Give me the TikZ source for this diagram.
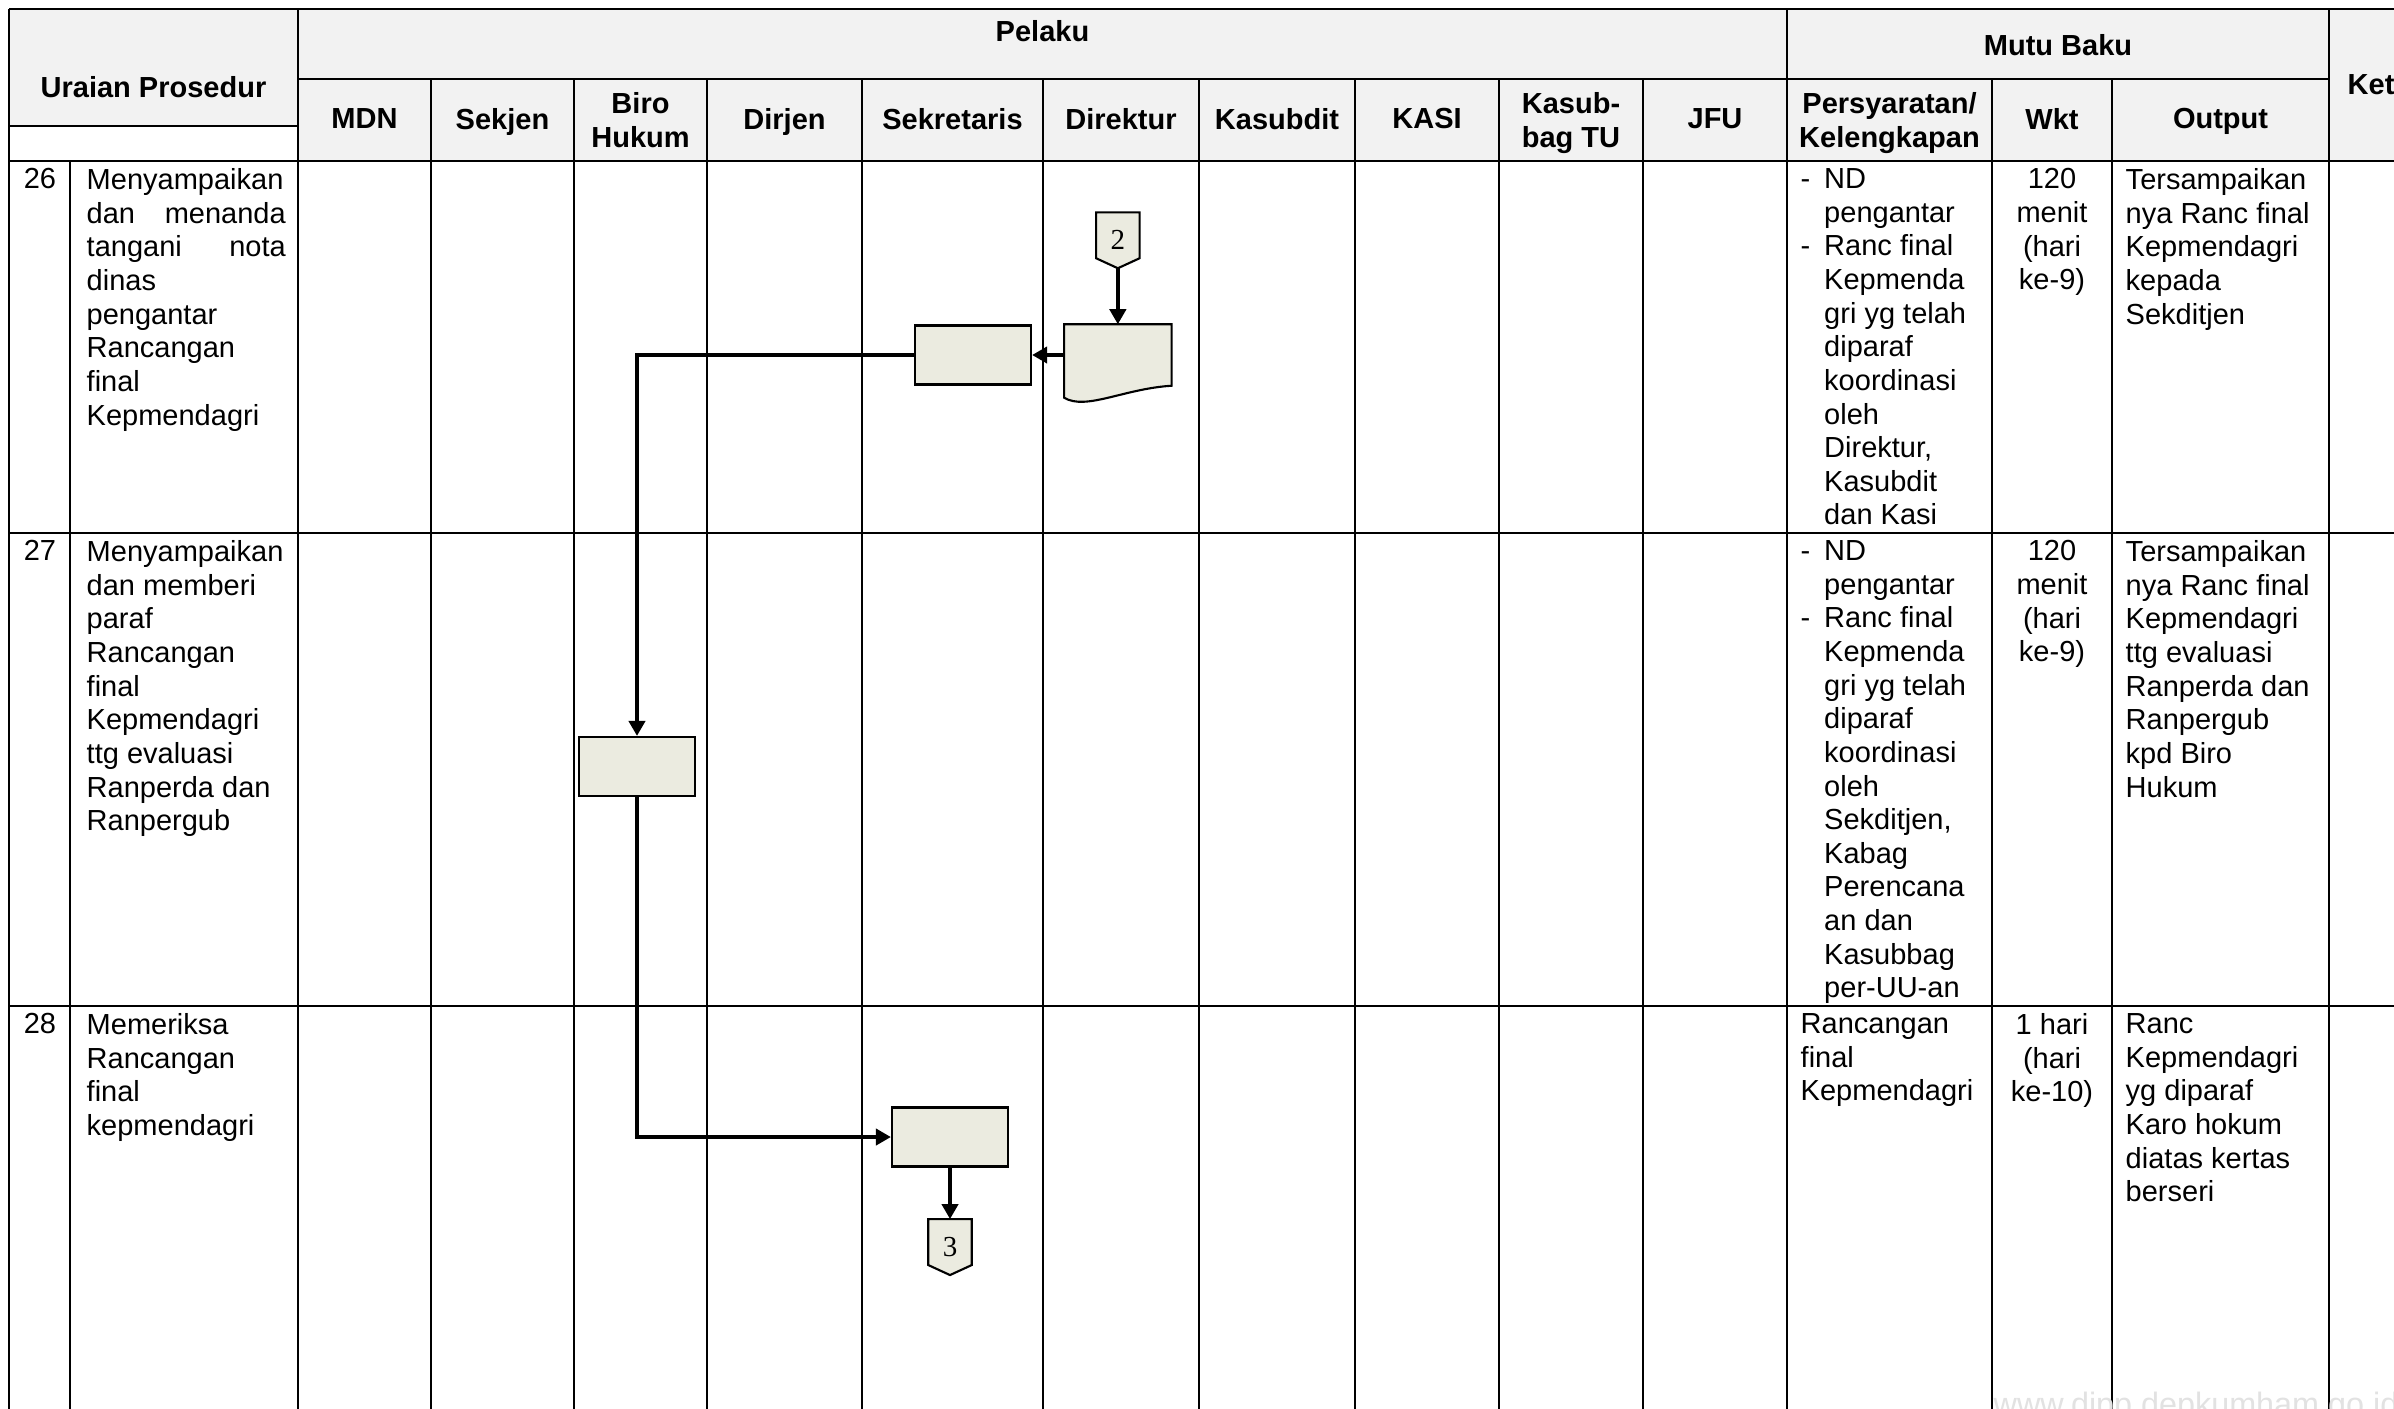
\documentclass[tikz,border=0pt]{standalone}
\usepackage{fontspec}
\setmainfont{Liberation Sans}
\newfontfamily\connfont{Liberation Serif}
\usepackage{xcolor}
\usepackage{tikz}
\usetikzlibrary{arrows.meta, positioning, calc, backgrounds}
\definecolor{headcol}{RGB}{242, 242, 242}
\definecolor{boxcol}{RGB}{235, 235, 224}
\definecolor{markcol}{RGB}{226, 226, 226}
\setlength{\parindent}{0pt}
\newcommand{\cellfont}{\fontsize{8.25}{9.56}\selectfont}
\newcommand{\reqdash}{\makebox[0.235cm][l]{-}}
\newcommand{\reqind}{\makebox[0.235cm][l]{}}

\begin{document}
\begin{tikzpicture}[
        x=0.01cm, y=-0.01cm,
        hline/.style={line width=0.8pt},
        vline/.style={line width=0.6pt},
        head/.style={anchor=north, inner sep=0pt, align=center, font=\cellfont\bfseries},
        cell/.style={anchor=north west, inner sep=0pt, align=left, font=\cellfont},
        wkt/.style={anchor=north, inner sep=0pt, align=center, font=\cellfont},
        box/.style={rectangle, draw, fill=boxcol, line width=0.6pt, minimum width=1.16cm, minimum height=0.59cm, inner sep=0pt},
        docbox/.style={draw, fill=boxcol, line width=0.6pt},
        offpage/.style={rectangle, minimum width=0.42cm, minimum height=0.545cm, inner sep=0pt, font=\connfont\fontsize{8.25}{9}\selectfont},
        arrow/.style={-{Triangle[length=4.3pt, width=4.6pt]}, line width=1.1pt}
    ]
    \useasboundingbox (0,0) rectangle (2394,1408);
    \begin{scope}[on background layer]
        \fill[white] (0,0) rectangle (2394,1408);
    \end{scope}

    % Header shading
    \fill[headcol] (9,9) rectangle (298,126);
    \fill[headcol] (298,9) rectangle (2420,161);

    % Table lines
    \draw[hline] (9,9) -- (2420,9);
    \draw[hline] (9,161) -- (2420,161);
    \draw[hline] (9,533) -- (2420,533);
    \draw[hline] (9,1006) -- (2420,1006);
    \draw[vline] (298,79) -- (2329,79);
    \draw[vline] (9,126) -- (298,126);
    \draw[hline] (9,9) -- (9,1420);
    \draw[hline] (298,9) -- (298,1420);
    \draw[vline] (70,161) -- (70,1420);
    \draw[vline] (431,79) -- (431,1420) (574,79) -- (574,1420) (707,79) -- (707,1420)
        (862,79) -- (862,1420) (1043,79) -- (1043,1420) (1199,79) -- (1199,1420)
        (1355,79) -- (1355,1420) (1499,79) -- (1499,1420) (1643,79) -- (1643,1420);
    \draw[vline] (1787,9) -- (1787,1420);
    \draw[vline] (1992,79) -- (1992,1420) (2112,79) -- (2112,1420);
    \draw[vline] (2329,9) -- (2329,1420);

    % Header texts
    \node[head] (hUraian) at (153.5,76) {Uraian Prosedur};
    \node[head] (hPelaku) at (1042.5,20) {Pelaku};
    \node[head] (hMutu) at (2058,34) {Mutu Baku};
    \node[head, anchor=north west] (hKet) at (2347,74) {Ket};
    \node[head] (hMDN) at (364.5,108) {MDN};
    \node[head] (hSekjen) at (502.5,108) {Sekjen};
    \node[head] (hBiro) at (640.5,92) {Biro\\Hukum};
    \node[head] (hDirjen) at (784.5,108) {Dirjen};
    \node[head] (hSekretaris) at (952.5,108) {Sekretaris};
    \node[head] (hDirektur) at (1121,108) {Direktur};
    \node[head] (hKasubdit) at (1277,108) {Kasubdit};
    \node[head] (hKasi) at (1427,108) {KASI};
    \node[head] (hKasubbag) at (1571,92) {Kasub-\\bag TU};
    \node[head] (hJfu) at (1715,108) {JFU};
    \node[head] (hSyarat) at (1889.5,92) {Persyaratan/\\Kelengkapan};
    \node[head] (hWkt) at (2052,108) {Wkt};
    \node[head] (hOutput) at (2220.5,108) {Output};

    % Row 26
    \node[cell, anchor=north] (n26) at (40,168) {26};
    \node[cell, text width=1.99cm] (u26) at (86,168) {Menyampaikan\\ dan\hfill menanda\\ tangani\hfill nota\\ dinas\\ pengantar\\ Rancangan\\ final\\ Kepmendagri};
    \node[cell] (req26) at (1800,168) {\reqdash ND\\ \reqind pengantar\\ \reqdash Ranc final\\ \reqind Kepmenda\\ \reqind gri yg telah\\ \reqind diparaf\\ \reqind koordinasi\\ \reqind oleh\\ \reqind Direktur,\\ \reqind Kasubdit\\ \reqind dan Kasi};
    \node[wkt] (wkt26) at (2052,168) {120\\ menit\\ (hari\\ ke-9)};
    \node[cell] (out26) at (2125,168) {Tersampaikan\\ nya Ranc final\\ Kepmendagri\\ kepada\\ Sekditjen};

    % Row 27
    \node[cell, anchor=north] (n27) at (40,540) {27};
    \node[cell] (u27) at (86,540) {Menyampaikan\\ dan memberi\\ paraf\\ Rancangan\\ final\\ Kepmendagri\\ ttg evaluasi\\ Ranperda dan\\ Ranpergub};
    \node[cell] (req27) at (1800,540) {\reqdash ND\\ \reqind pengantar\\ \reqdash Ranc final\\ \reqind Kepmenda\\ \reqind gri yg telah\\ \reqind diparaf\\ \reqind koordinasi\\ \reqind oleh\\ \reqind Sekditjen,\\ \reqind Kabag\\ \reqind Perencana\\ \reqind an dan\\ \reqind Kasubbag\\ \reqind per-UU-an};
    \node[wkt] (wkt27) at (2052,540) {120\\ menit\\ (hari\\ ke-9)};
    \node[cell] (out27) at (2125,540) {Tersampaikan\\ nya Ranc final\\ Kepmendagri\\ ttg evaluasi\\ Ranperda dan\\ Ranpergub\\ kpd Biro\\ Hukum};

    % Row 28
    \node[cell, anchor=north] (n28) at (40,1013) {28};
    \node[cell] (u28) at (86,1013) {Memeriksa\\ Rancangan\\ final\\ kepmendagri};
    \node[cell] (req28) at (1800,1013) {Rancangan\\ final\\ Kepmendagri};
    \node[wkt] (wkt28) at (2052,1013) {1 hari\\ (hari\\ ke-10)};
    \node[cell] (out28) at (2125,1013) {Ranc\\ Kepmendagri\\ yg diparaf\\ Karo hokum\\ diatas kertas\\ berseri};

    % Flow boxes
    \node[box] (sek1) at (973,355) {};
    \node[rectangle, minimum width=1.06cm, minimum height=0.6cm, inner sep=0pt, right=0.32cm of sek1] (doc) {};
    \node[offpage, above=0.56cm of doc] (off2) {2};
    \node[box] (biro) at (637,766.5) {};
    \node[box] (sek2) at (950,1137) {};
    \node[offpage, below=0.515cm of sek2] (off3) {3};

    % Document shape
    \draw[docbox] (doc.north west) -- (doc.north east) -- (doc.south east)
        .. controls ($(doc.south east)+(-48,3)$) and ($(doc.south west)+(22,25)$) .. ($(doc.south west)+(0,12)$) -- cycle;

    % Off-page connectors
    \begin{scope}[on background layer]
        \draw[docbox] (off2.north west) -- (off2.north east) -- ($(off2.south east)+(0,-10)$) -- (off2.south) -- ($(off2.south west)+(0,-10)$) -- cycle;
        \draw[docbox] (off3.north west) -- (off3.north east) -- ($(off3.south east)+(0,-10)$) -- (off3.south) -- ($(off3.south west)+(0,-10)$) -- cycle;
    \end{scope}

    % Arrows
    \draw[arrow] (off2.south) -- (doc.north);
    \draw[arrow] (doc.west) -- (sek1.east);
    \draw[arrow] (sek1.west) -| (biro.north);
    \draw[arrow] (biro.south) |- (sek2.west);
    \draw[arrow] (sek2.south) -- (off3.north);

    % Watermark
    \node[anchor=base west, inner sep=0pt, text=markcol, font=\fontsize{9.2}{11}\selectfont] (wmark) at (1993,1415) {www.djpp.depkumham.go.id};

\end{tikzpicture}
\end{document}
